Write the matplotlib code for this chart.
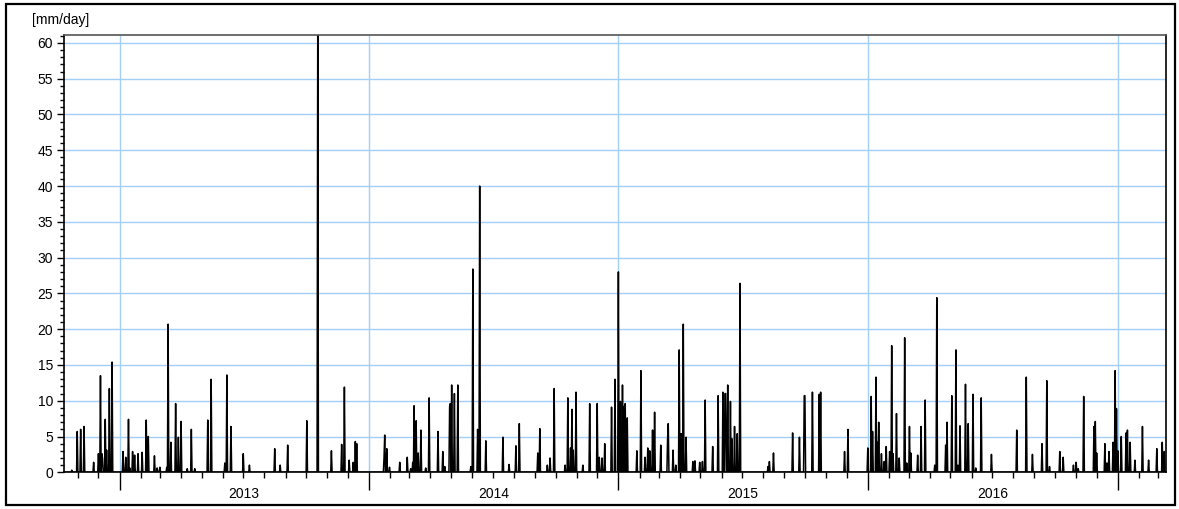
import matplotlib
matplotlib.use('Agg')
import matplotlib.pyplot as plt
import matplotlib.dates as mdates
from matplotlib.ticker import MultipleLocator, NullFormatter
from matplotlib.patches import Rectangle
import pandas as pd

plt.rcParams['font.family'] = ['Liberation Sans', 'DejaVu Sans']
plt.rcParams['font.size'] = 10

# daily precipitation, only the wet days are listed (all other days are 0)
rain_dates = [
    '2012-10-23', '2012-10-31', '2012-11-05', '2012-11-10', '2012-11-24', '2012-12-01',
    '2012-12-04', '2012-12-06', '2012-12-07', '2012-12-11', '2012-12-13', '2012-12-17',
    '2012-12-21',
    '2013-01-06', '2013-01-10', '2013-01-14', '2013-01-16', '2013-01-20', '2013-01-23',
    '2013-01-28', '2013-02-03', '2013-02-09', '2013-02-12', '2013-02-21', '2013-02-25',
    '2013-03-01', '2013-03-11', '2013-03-13', '2013-03-17', '2013-03-24', '2013-03-28',
    '2013-04-01', '2013-04-10', '2013-04-16', '2013-04-21', '2013-05-10', '2013-05-15',
    '2013-06-04', '2013-06-07', '2013-06-13', '2013-07-01', '2013-07-10', '2013-08-16',
    '2013-08-24', '2013-09-04', '2013-10-02', '2013-10-18', '2013-11-07', '2013-11-22',
    '2013-11-26', '2013-12-03', '2013-12-09', '2013-12-12', '2013-12-14',
    '2014-01-23', '2014-01-24', '2014-01-27', '2014-01-31', '2014-02-15', '2014-02-26',
    '2014-03-03', '2014-03-06', '2014-03-08', '2014-03-11', '2014-03-14', '2014-03-18',
    '2014-03-25', '2014-03-30', '2014-04-12', '2014-04-19', '2014-04-22', '2014-04-29',
    '2014-04-30', '2014-05-02', '2014-05-06', '2014-05-11', '2014-05-30', '2014-06-02',
    '2014-06-09', '2014-06-12', '2014-06-21', '2014-07-16', '2014-07-25', '2014-08-04',
    '2014-08-09', '2014-09-05', '2014-09-08', '2014-09-19', '2014-09-23', '2014-09-29',
    '2014-10-15', '2014-10-19', '2014-10-23', '2014-10-25', '2014-10-27', '2014-10-31',
    '2014-11-10', '2014-11-20', '2014-12-01', '2014-12-04', '2014-12-08', '2014-12-12',
    '2014-12-22', '2014-12-27',
    '2015-01-01', '2015-01-04', '2015-01-07', '2015-01-09', '2015-01-11', '2015-01-14',
    '2015-01-28', '2015-02-03', '2015-02-09', '2015-02-13', '2015-02-16', '2015-02-20',
    '2015-02-23', '2015-03-04', '2015-03-14', '2015-03-15', '2015-03-22', '2015-03-26',
    '2015-03-31', '2015-04-03', '2015-04-06', '2015-04-10', '2015-04-20', '2015-04-23',
    '2015-04-30', '2015-05-04', '2015-05-08', '2015-05-19', '2015-05-27', '2015-06-03',
    '2015-06-06', '2015-06-07', '2015-06-10', '2015-06-14', '2015-06-16', '2015-06-20',
    '2015-06-24', '2015-06-28', '2015-08-08', '2015-08-10', '2015-08-16', '2015-09-13',
    '2015-09-23', '2015-09-30', '2015-10-01', '2015-10-12', '2015-10-22', '2015-10-24',
    '2015-11-28', '2015-12-03',
    '2016-01-01', '2016-01-06', '2016-01-08', '2016-01-13', '2016-01-15', '2016-01-17',
    '2016-01-21', '2016-01-25', '2016-01-28', '2016-02-02', '2016-02-05', '2016-02-07',
    '2016-02-12', '2016-02-16', '2016-02-24', '2016-02-27', '2016-03-02', '2016-03-04',
    '2016-03-14', '2016-03-19', '2016-03-25', '2016-04-08', '2016-04-11', '2016-04-24',
    '2016-04-26', '2016-05-03', '2016-05-09', '2016-05-12', '2016-05-15', '2016-05-23',
    '2016-05-27', '2016-06-03', '2016-06-07', '2016-06-15', '2016-06-30', '2016-08-06',
    '2016-08-20', '2016-08-29', '2016-09-12', '2016-09-19', '2016-09-23', '2016-10-08',
    '2016-10-13', '2016-10-28', '2016-11-01', '2016-11-04', '2016-11-12', '2016-11-27',
    '2016-11-29', '2016-12-01', '2016-12-13', '2016-12-16', '2016-12-19', '2016-12-25',
    '2016-12-28', '2016-12-30',
    '2017-01-01', '2017-01-06', '2017-01-13', '2017-01-15', '2017-01-19', '2017-01-26',
    '2017-02-06', '2017-02-15', '2017-02-27', '2017-03-07', '2017-03-10',
]
rain_mm = [
    0.3, 5.7, 6.0, 6.4, 1.4, 2.6,
    13.5, 2.6, 2.0, 7.4, 3.1, 11.7,
    15.4,
    2.9, 2.1, 7.4, 0.6, 2.9, 2.4,
    2.6, 2.8, 7.3, 5.0, 2.3, 0.6,
    0.7, 0.7, 20.7, 4.2, 9.6, 4.9,
    7.1, 0.5, 6.0, 0.5, 7.3, 13.0,
    1.3, 13.6, 6.4, 2.6, 1.0, 3.3,
    1.0, 3.8, 7.2, 63.0, 3.0, 3.9,
    11.9, 1.7, 1.4, 4.3, 4.0,
    2.0, 5.2, 3.3, 0.7, 1.4, 2.1,
    0.5, 1.4, 9.3, 7.2, 2.7, 5.9,
    0.6, 10.4, 5.7, 2.9, 0.8, 9.2,
    9.6, 12.2, 11.0, 12.2, 0.8, 28.4,
    6.0, 40.0, 4.4, 4.9, 1.1, 3.7,
    6.8, 2.7, 6.1, 1.0, 2.0, 11.7,
    1.0, 10.4, 3.4, 8.8, 3.1, 11.2,
    1.0, 9.6, 9.6, 2.1, 2.0, 4.0,
    9.1, 13.0,
    28.0, 9.9, 12.2, 9.2, 9.6, 7.6,
    3.0, 14.2, 2.1, 3.4, 3.0, 5.9,
    8.4, 3.8, 4.7, 6.8, 3.1, 1.0,
    17.1, 5.4, 20.7, 4.9, 1.5, 1.6,
    1.4, 1.5, 10.1, 3.6, 10.7, 11.2,
    11.0, 11.0, 12.2, 9.9, 4.7, 6.4,
    5.4, 26.4, 0.8, 1.5, 2.7, 5.5,
    4.9, 10.7, 10.7, 11.2, 10.9, 11.2,
    2.9, 6.0,
    3.4, 10.6, 5.7, 13.3, 4.2, 7.0,
    2.6, 1.5, 3.6, 2.9, 17.7, 2.6,
    8.2, 2.0, 18.8, 1.3, 6.4, 2.7,
    2.4, 6.4, 10.1, 1.0, 24.4, 3.8,
    7.0, 10.7, 17.1, 1.0, 6.5, 12.3,
    6.8, 10.9, 0.6, 10.4, 2.5, 5.9,
    13.3, 2.5, 4.0, 12.8, 0.8, 2.9,
    2.1, 1.0, 1.4, 0.5, 10.6, 6.4,
    7.1, 2.7, 4.0, 1.3, 2.9, 4.2,
    14.2, 8.9,
    3.0, 5.0, 5.5, 5.9, 4.2, 1.7,
    6.4, 1.7, 3.3, 4.2, 2.9,
]
year_labels = ['2013', '2014', '2015', '2016']

start, end = pd.Timestamp('2012-10-12'), pd.Timestamp('2017-03-12')
days = pd.date_range(start, end, freq='D')
rain = pd.Series(0.0, index=days)
rain[pd.to_datetime(rain_dates)] = rain_mm

fig = plt.figure(figsize=(11.79, 5.09), dpi=100)
ax = fig.add_axes([0.0545, 0.0721, 0.9342, 0.8591])

ax.plot(rain.index, rain.values, color='black', lw=1.1)

ax.set_xlim(start, end)
ax.set_ylim(0, 61.1)

ax.yaxis.set_major_locator(MultipleLocator(5))
ax.yaxis.set_minor_locator(MultipleLocator(1))
ax.xaxis.set_major_locator(mdates.YearLocator())
ax.xaxis.set_minor_locator(mdates.MonthLocator())
ax.xaxis.set_major_formatter(NullFormatter())

ax.tick_params(axis='y', which='major', length=5, width=1, pad=3)
ax.tick_params(axis='y', which='minor', length=3, width=1)
ax.tick_params(axis='x', which='major', length=13, width=1)
ax.tick_params(axis='x', which='minor', length=4, width=1)

ax.grid(True, which='major', color='#a3cff7', lw=1)
ax.set_axisbelow(True)
for s in ax.spines.values():
    s.set_linewidth(1.2)
ax.spines['top'].set_color('#555555')

# year names sit in the middle of each year
for y in year_labels:
    mid = pd.Timestamp(f'{y}-07-02')
    ax.text(mid, -0.05, y, transform=ax.get_xaxis_transform(),
            ha='center', va='center', fontsize=10)

fig.text(32 / 1179, 1 - 20 / 509, '[mm/day]', ha='left', va='center', fontsize=10)

# frame around the whole figure
fig.patches.append(Rectangle((6 / 1179, 4 / 509), 1169 / 1179, 501 / 509,
                             transform=fig.transFigure, fill=False,
                             edgecolor='black', lw=1.6))

fig.savefig('out.png', dpi=100)
